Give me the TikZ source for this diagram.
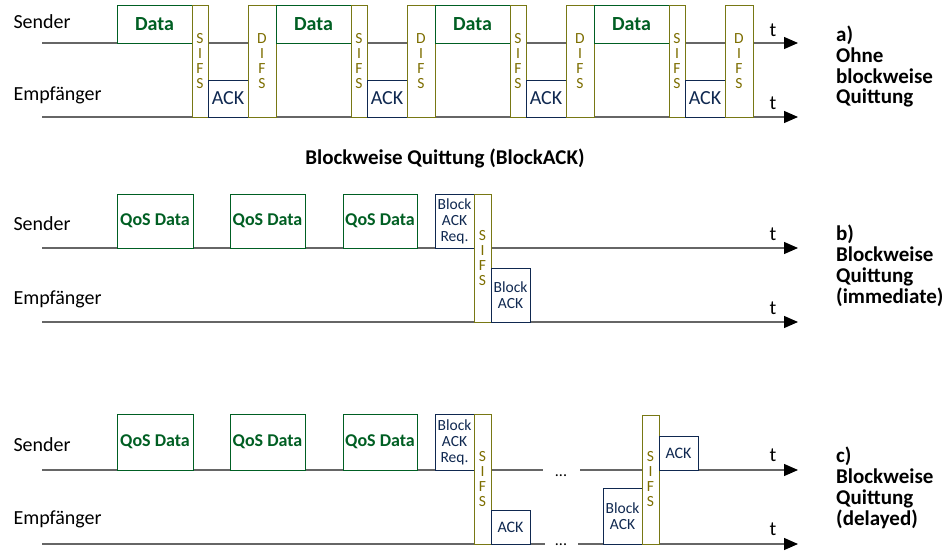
\documentclass[tikz,border=0pt]{standalone}
\usepackage{fontspec}
\setmainfont{Carlito}
\usepackage{tikz}
\usetikzlibrary{positioning, arrows.meta}
\definecolor{datagreen}{RGB}{0,95,35}
\definecolor{acknavy}{RGB}{15,40,80}
\definecolor{ifsolive}{RGB}{125,110,0}
\definecolor{ifsframe}{RGB}{120,120,20}
\tikzset{
x=1pt, y=-1pt, % one unit is one pixel of the page, y runs downwards
axis/.style={draw=black!60, line width=1.3pt, -{Triangle[length=14pt, width=12pt, color=black]}}, % time axis
frame/.style={draw, fill=white, line width=0.9pt, inner sep=0pt, outer sep=0pt}, % every frame box
data/.style={frame, draw=datagreen, text=datagreen, font=\bfseries\fontsize{20}{24}\selectfont, minimum width=75pt, minimum height=38pt},
qos/.style={frame, draw=datagreen, text=datagreen, font=\bfseries\fontsize{18}{22}\selectfont, minimum width=75pt, minimum height=54pt},
ack/.style={frame, draw=acknavy, text=acknavy, font=\fontsize{20}{24}\selectfont, minimum width=40pt, minimum height=37pt},
blk/.style={frame, draw=acknavy, text=acknavy, align=center, font=\fontsize{15.5}{16}\selectfont, minimum width=39pt, minimum height=54pt},
ifs/.style={frame, draw=ifsframe, text=ifsolive, align=center, font=\fontsize{15.5}{15}\selectfont, minimum width=16pt, minimum height=112pt},
who/.style={anchor=west, font=\fontsize{20}{24}\selectfont}, % Sender / Empfaenger
tlabel/.style={font=\fontsize{20}{24}\selectfont},
case/.style={anchor=base west, align=left, inner sep=0pt, font=\bfseries\fontsize{21}{20.7}\selectfont}, % a) b) c), placed by their last line
}
\begin{document}
\begin{tikzpicture}
\useasboundingbox (0,0) rectangle (950,559);

% a) ohne blockweise Quittung
\coordinate (sa0) at (42,43);   \coordinate (sa1) at (798,43);
\coordinate (ea0) at (42,117);  \coordinate (ea1) at (798,117);
\draw[axis] (sa0) -- (sa1);
\draw[axis] (ea0) -- (ea1);
\node[who] (sa) at (10,22) {Sender};
\node[who] (ea) at (10,95) {Empfänger};
\node[tlabel] (ta1) at (773,30) {t};
\node[tlabel] (ta2) at (773,103) {t};

\node[data, anchor=north west] (d1) at (117,5) {Data};
\node[ifs, anchor=north west] (s1) at (d1.north east) {S\\I\\F\\S};
\node[ack, anchor=south west] (k1) at (s1.south east) {ACK};
\node[ifs, minimum width=28pt, anchor=south west] (f1) at (k1.south east) {D\\I\\F\\S};
\node[data, anchor=north west] (d2) at (f1.north east) {Data};
\node[ifs, anchor=north west] (s2) at (d2.north east) {S\\I\\F\\S};
\node[ack, anchor=south west] (k2) at (s2.south east) {ACK};
\node[ifs, minimum width=28pt, anchor=south west] (f2) at (k2.south east) {D\\I\\F\\S};
\node[data, anchor=north west] (d3) at (f2.north east) {Data};
\node[ifs, anchor=north west] (s3) at (d3.north east) {S\\I\\F\\S};
\node[ack, anchor=south west] (k3) at (s3.south east) {ACK};
\node[ifs, minimum width=28pt, anchor=south west] (f3) at (k3.south east) {D\\I\\F\\S};
\node[data, anchor=north west] (d4) at (f3.north east) {Data};
\node[ifs, anchor=north west] (s4) at (d4.north east) {S\\I\\F\\S};
\node[ack, anchor=south west] (k4) at (s4.south east) {ACK};
\node[ifs, minimum width=28pt, anchor=south west] (f4) at (k4.south east) {D\\I\\F\\S};
\node[case] (ca) at (836,104) {a)\\Ohne\\blockweise\\Quittung};

\node[font=\bfseries\fontsize{21}{24}\selectfont] (title) at (445,158) {Blockweise Quittung (BlockACK)};

% b) immediate
\coordinate (sb0) at (42,248);  \coordinate (sb1) at (798,248);
\coordinate (eb0) at (42,322);  \coordinate (eb1) at (798,322);
\draw[axis] (sb0) -- (sb1);
\draw[axis] (eb0) -- (eb1);
\node[who] (sb) at (10,224) {Sender};
\node[who] (eb) at (10,299) {Empfänger};
\node[tlabel] (tb1) at (773,234) {t};
\node[tlabel] (tb2) at (773,308) {t};

\node[qos, minimum width=76pt, anchor=south west] (q1) at (117,248) {QoS Data};
\node[qos, anchor=south west] (q2) at (230,248) {QoS Data};
\node[qos, minimum width=74pt, anchor=south west] (q3) at (343,248) {QoS Data};
\node[blk, anchor=south west] (r1) at (435,248) {Block\\ACK\\Req.};
\node[ifs, minimum width=17pt, minimum height=128pt, anchor=north west] (s5) at (r1.north east) {S\\I\\F\\S};
\node[blk, anchor=south west] (b1) at (s5.south east) {Block\\ACK};
\node[case] (cb) at (836,303) {b)\\Blockweise\\Quittung\\(immediate)};

% c) delayed
\coordinate (sc0) at (42,470);  \coordinate (sc1) at (543,470);
\coordinate (sc2) at (580,470); \coordinate (sc3) at (798,470);
\coordinate (ec0) at (42,544);  \coordinate (ec1) at (545,544);
\coordinate (ec2) at (578,544); \coordinate (ec3) at (798,544);
\draw[axis, -] (sc0) -- (sc1);
\draw[axis] (sc2) -- (sc3);
\draw[axis, -] (ec0) -- (ec1);
\draw[axis] (ec2) -- (ec3);
\node[who] (sc) at (10,445) {Sender};
\node[who] (ec) at (10,519) {Empfänger};
\node[tlabel] (tc1) at (773,455) {t};
\node[tlabel] (tc2) at (773,529) {t};

\node[qos, minimum width=76pt, minimum height=56pt, anchor=south west] (q4) at (117,470) {QoS Data};
\node[qos, minimum height=56pt, anchor=south west] (q5) at (230,470) {QoS Data};
\node[qos, minimum width=74pt, minimum height=56pt, anchor=south west] (q6) at (343,470) {QoS Data};
\node[blk, minimum height=56pt, anchor=south west] (r2) at (435,470) {Block\\ACK\\Req.};
\node[ifs, minimum width=17pt, minimum height=130pt, anchor=north west] (s6) at (r2.north east) {S\\I\\F\\S};
\node[ack, font=\fontsize{16}{19}\selectfont, minimum width=39pt, minimum height=34pt, anchor=south west] (k5) at (s6.south east) {ACK};
\node[font=\fontsize{16}{19}\selectfont] (dots1) at (561,476) {...};
\node[font=\fontsize{16}{19}\selectfont] (dots2) at (561,545) {...};
\node[blk, minimum height=56pt, anchor=south west] (b2) at (603,544) {Block\\ACK};
\node[ifs, minimum width=17pt, minimum height=129pt, anchor=south west] (s7) at (b2.south east) {S\\I\\F\\S};
\node[ack, font=\fontsize{16}{19}\selectfont, minimum width=39pt, minimum height=34pt, anchor=south west] (k6) at (s7.east |- sc3) {ACK};
\node[case] (cc) at (836,525) {c)\\Blockweise\\Quittung\\(delayed)};
\end{tikzpicture}
\end{document}
